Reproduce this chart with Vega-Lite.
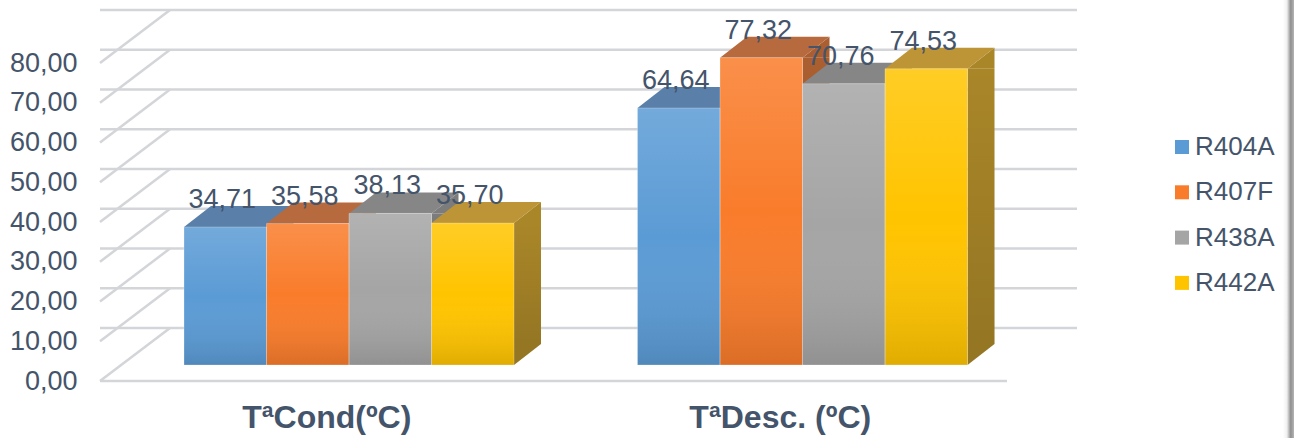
{
  "$schema": "https://vega.github.io/schema/vega-lite/v6.json",
  "width": 907,
  "height": 318,
  "autosize": "none",
  "padding": {"left": 100, "top": 63, "right": 287, "bottom": 57},
  "background": "#ffffff",
  "config": {
    "font": "Liberation Sans",
    "view": {"stroke": null}
  },
  "datasets": {
    "temps": [
      {"group": "TªCond(ºC)", "series": "R404A", "value": 34.71},
      {"group": "TªCond(ºC)", "series": "R407F", "value": 35.58},
      {"group": "TªCond(ºC)", "series": "R438A", "value": 38.13},
      {"group": "TªCond(ºC)", "series": "R442A", "value": 35.70},
      {"group": "TªDesc. (ºC)", "series": "R404A", "value": 64.64},
      {"group": "TªDesc. (ºC)", "series": "R407F", "value": 77.32},
      {"group": "TªDesc. (ºC)", "series": "R438A", "value": 70.76},
      {"group": "TªDesc. (ºC)", "series": "R442A", "value": 74.53}
    ],
    "ticks": [
      {"value": 0}, {"value": 10}, {"value": 20}, {"value": 30}, {"value": 40},
      {"value": 50}, {"value": 60}, {"value": 70}, {"value": 80}
    ]
  },
  "encoding": {
    "x": {
      "field": "group",
      "type": "nominal",
      "sort": null,
      "title": null,
      "scale": {"paddingInner": 0, "paddingOuter": 0},
      "axis": {
        "domain": false,
        "ticks": false,
        "labelAngle": 0,
        "labelFontSize": 32,
        "labelFontWeight": "bold",
        "labelColor": "#44546a",
        "labelPadding": 21,
        "labelLimit": 400,
        "labelBaseline": "top"
      }
    },
    "y": {
      "field": "value",
      "type": "quantitative",
      "title": null,
      "scale": {"domain": [0, 80], "nice": false},
      "axis": {
        "values": [0, 10, 20, 30, 40, 50, 60, 70, 80],
        "grid": false,
        "domain": false,
        "ticks": false,
        "labelFontSize": 27,
        "labelColor": "#44546a",
        "labelPadding": 23,
        "labelExpr": "replace(format(datum.value, '.2f'), '.', ',')"
      }
    }
  },
  "layer": [
    {
      "description": "Shaded strip along the right edge of the page",
      "data": {"values": [{"edge": "right"}]},
      "mark": {
        "type": "rect",
        "fill": {
          "x1": 0, "y1": 0, "x2": 1, "y2": 0,
          "gradient": "linear",
          "stops": [
            {"offset": 0, "color": "#ffffff"},
            {"offset": 0.35, "color": "#f0f0f0"},
            {"offset": 0.7, "color": "#8f8f8f"},
            {"offset": 1, "color": "#b5b5b5"}
          ]
        }
      },
      "encoding": {
        "x": {"value": 1183},
        "x2": {"value": 1194},
        "y": {"value": -63},
        "y2": {"value": 375}
      }
    },
    {
      "description": "Back wall lines",
      "data": {"name": "ticks"},
      "mark": {"type": "rule", "stroke": "#d3d5d9", "strokeWidth": 2.5, "xOffset": 70, "x2Offset": 70, "yOffset": -53},
      "encoding": {"x": null}
    },
    {
      "description": "Side wall diagonals",
      "data": {"name": "ticks"},
      "mark": {
        "type": "point",
        "filled": false,
        "stroke": "#d3d5d9",
        "strokeWidth": 2.5,
        "size": 4,
        "opacity": 1,
        "shape": "M-226.75,0L-156.75,-53"
      },
      "encoding": {"x": {"datum": "TªCond(ºC)"}}
    },
    {
      "description": "Front edge of the floor",
      "data": {"values": [{"value": 0}]},
      "mark": {"type": "rule", "stroke": "#d3d5d9", "strokeWidth": 2.5},
      "encoding": {"x": null}
    },
    {
      "description": "Side faces, upright part",
      "data": {"name": "temps"},
      "mark": {"type": "bar", "width": 27, "yOffset": -16, "y2Offset": -37},
      "encoding": {
        "y2": {"datum": 0},
        "xOffset": {
          "field": "series",
          "sort": null,
          "scale": {"type": "band", "domain": ["R404A", "R407F", "R438A", "R442A"], "range": [138.75, 468.75], "padding": 0}
        },
        "color": {
          "field": "series",
          "legend": null,
          "sort": null,
          "scale": {"domain": ["R404A", "R407F", "R438A", "R442A"], "range": ["#4d76a3", "#ab5f30", "#7c7c7c", "#a98628"]}
        }
      }
    },
    {
      "description": "Darkening towards the foot of the side faces",
      "data": {"name": "temps"},
      "mark": {
        "type": "bar",
        "width": 27,
        "yOffset": -16,
        "y2Offset": -37,
        "fill": {
          "x1": 0, "y1": 0, "x2": 0, "y2": 1,
          "gradient": "linear",
          "stops": [
            {"offset": 0, "color": "rgba(0,0,0,0)"},
            {"offset": 1, "color": "rgba(0,0,0,0.12)"}
          ]
        }
      },
      "encoding": {
        "y2": {"datum": 0},
        "xOffset": {
          "field": "series",
          "sort": null,
          "scale": {"type": "band", "domain": ["R404A", "R407F", "R438A", "R442A"], "range": [138.75, 468.75], "padding": 0}
        }
      }
    },
    {
      "description": "Side faces, slanted top corner",
      "data": {"name": "temps"},
      "mark": {"type": "point", "filled": true, "opacity": 1, "size": 4, "shape": "M41.25,-16L68.25,-37L68.25,-16Z"},
      "encoding": {
        "xOffset": {
          "field": "series",
          "sort": null,
          "scale": {"type": "band", "domain": ["R404A", "R407F", "R438A", "R442A"], "range": [84, 414], "padding": 0}
        },
        "color": {
          "field": "series",
          "legend": null,
          "sort": null,
          "scale": {"domain": ["R404A", "R407F", "R438A", "R442A"], "range": ["#4d76a3", "#ab5f30", "#7c7c7c", "#a98628"]}
        }
      }
    },
    {
      "description": "Side faces, slanted bottom corner",
      "data": {"name": "temps"},
      "mark": {"type": "point", "filled": true, "opacity": 1, "size": 4, "shape": "M41.25,-16L68.25,-37L41.25,-37Z"},
      "encoding": {
        "y": {"datum": 0},
        "xOffset": {
          "field": "series",
          "sort": null,
          "scale": {"type": "band", "domain": ["R404A", "R407F", "R438A", "R442A"], "range": [84, 414], "padding": 0}
        },
        "color": {
          "field": "series",
          "legend": null,
          "sort": null,
          "scale": {"domain": ["R404A", "R407F", "R438A", "R442A"], "range": ["#44688f", "#96542a", "#6d6d6d", "#957623"]}
        }
      }
    },
    {
      "description": "Top faces",
      "data": {"name": "temps"},
      "mark": {"type": "point", "filled": true, "opacity": 1, "size": 4, "shape": "M-41.25,-16L41.25,-16L68.25,-37L-14.25,-37Z"},
      "encoding": {
        "xOffset": {
          "field": "series",
          "sort": null,
          "scale": {"type": "band", "domain": ["R404A", "R407F", "R438A", "R442A"], "range": [84, 414], "padding": 0}
        },
        "color": {
          "field": "series",
          "legend": null,
          "sort": null,
          "scale": {"domain": ["R404A", "R407F", "R438A", "R442A"], "range": ["#5a80aa", "#b66a3e", "#868686", "#bd9537"]}
        }
      }
    },
    {
      "description": "Front faces",
      "data": {"name": "temps"},
      "mark": {"type": "bar", "yOffset": -16, "y2Offset": -16},
      "encoding": {
        "y2": {"datum": 0},
        "xOffset": {
          "field": "series",
          "sort": null,
          "scale": {"type": "band", "domain": ["R404A", "R407F", "R438A", "R442A"], "range": [84, 414], "padding": 0}
        },
        "color": {
          "field": "series",
          "sort": null,
          "title": null,
          "scale": {"domain": ["R404A", "R407F", "R438A", "R442A"], "range": ["#5b9bd5", "#f97c2b", "#a5a5a5", "#ffc400"]},
          "legend": {
            "orient": "none",
            "legendX": 1069,
            "legendY": 71,
            "padding": 0,
            "symbolType": "square",
            "symbolSize": 196,
            "symbolStrokeWidth": 0,
            "labelFontSize": 26,
            "labelColor": "#44546a",
            "labelOffset": 0,
            "rowPadding": 19.3,
            "labelLimit": 200,
            "encode": {
              "symbols": {
                "update": {
                  "fill": {
                    "signal": "{gradient: 'linear', x1: 0, y1: 0, x2: 0, y2: 1, stops: [{offset: 0, color: datum.value === 'R404A' ? '#70a7de' : datum.value === 'R407F' ? '#f58b55' : datum.value === 'R438A' ? '#b1b1b1' : '#ffca3c'}, {offset: 1, color: datum.value === 'R404A' ? '#4586c8' : datum.value === 'R407F' ? '#e46b18' : datum.value === 'R438A' ? '#8f8f8f' : '#e7b300'}]}"
                  }
                }
              }
            }
          }
        }
      }
    },
    {
      "description": "Sheen and shading down the front faces",
      "data": {"name": "temps"},
      "mark": {
        "type": "bar",
        "yOffset": -16,
        "y2Offset": -16,
        "stroke": "rgba(255,255,255,0.25)",
        "strokeWidth": 1,
        "fill": {
          "x1": 0, "y1": 0, "x2": 0, "y2": 1,
          "gradient": "linear",
          "stops": [
            {"offset": 0, "color": "rgba(255,255,255,0.15)"},
            {"offset": 0.5, "color": "rgba(255,255,255,0)"},
            {"offset": 1, "color": "rgba(0,0,0,0.12)"}
          ]
        }
      },
      "encoding": {
        "y2": {"datum": 0},
        "xOffset": {
          "field": "series",
          "sort": null,
          "scale": {"type": "band", "domain": ["R404A", "R407F", "R438A", "R442A"], "range": [84, 414], "padding": 0}
        }
      }
    },
    {
      "description": "Value labels",
      "data": {"name": "temps"},
      "mark": {
        "type": "text",
        "fontSize": 27,
        "color": "#44546a",
        "dx": -3,
        "yOffset": -43,
        "baseline": "middle",
        "text": {"expr": "replace(format(datum.value, '.2f'), '.', ',')"}
      },
      "encoding": {
        "xOffset": {
          "field": "series",
          "sort": null,
          "scale": {"type": "band", "domain": ["R404A", "R407F", "R438A", "R442A"], "range": [84, 414], "padding": 0}
        }
      }
    }
  ],
  "resolve": {"scale": {"color": "independent", "xOffset": "independent"}}
}
